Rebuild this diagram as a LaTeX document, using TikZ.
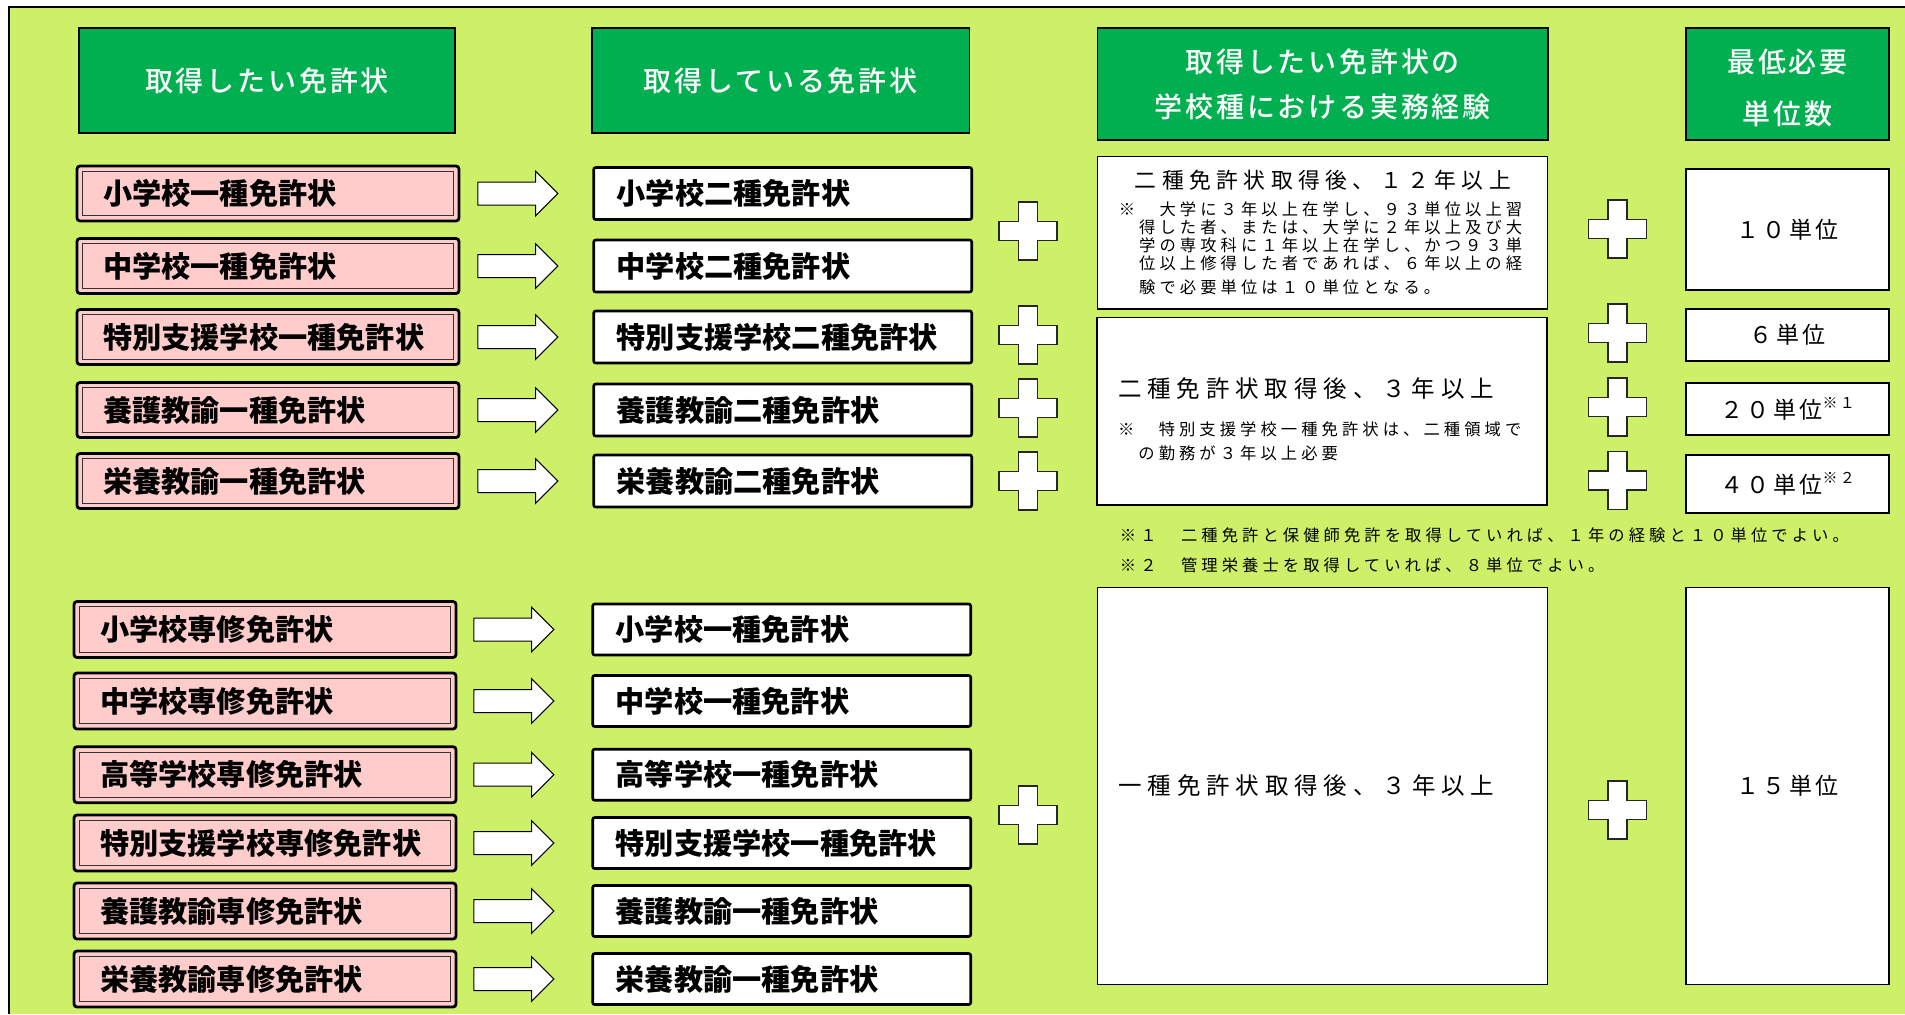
\documentclass[tikz,border=0pt]{standalone}
\usepackage{fontspec}
\setmainfont{Noto Sans CJK JP}
\newfontfamily\headfont{Noto Sans CJK JP Medium}[LetterSpace=10]
\newfontfamily\expfont{Noto Sans CJK JP}[LetterSpace=25]
\newfontfamily\unitfont{Noto Sans CJK JP}[LetterSpace=15]
\usetikzlibrary{shapes.arrows, positioning}
\definecolor{bggreen}{HTML}{CDF068}
\definecolor{headgreen}{HTML}{00B050}
\definecolor{pinkfill}{HTML}{FFCCCC}
\newcommand{\unitnote}[1]{\raisebox{5pt}{\fontsize{7.5pt}{7.5pt}\selectfont #1}}
\tikzset{
    header/.style={
        rectangle, draw=black, line width=0.6pt, fill=headgreen,
        text=white, align=center,
        font=\headfont\fontsize{14pt}{22.5pt}\selectfont
    },
    wantbox/.style={
        rectangle, draw=black, line width=1.4pt, rounded corners=1.5pt,
        fill=pinkfill, minimum width=191pt, minimum height=27.5pt,
        inner xsep=13pt, text width=165pt, align=left,
        font=\bfseries\fontsize{14.6pt}{17pt}\selectfont,
        path picture={\draw[black!80, line width=0.4pt, sharp corners]
            ([shift={(2.6pt,-2.6pt)}]path picture bounding box.north west) rectangle
            ([shift={(-2.6pt,2.6pt)}]path picture bounding box.south east);}
    },
    havebox/.style={
        rectangle, draw=black, line width=1.3pt, rounded corners=1pt,
        fill=white, minimum width=189pt, minimum height=26pt,
        inner xsep=11.5pt, text width=166pt, align=left,
        font=\bfseries\fontsize{14.6pt}{17pt}\selectfont
    },
    expbox/.style={
        rectangle, draw=black, line width=0.6pt, fill=white,
        minimum width=225pt, inner xsep=10.5pt, text width=204pt, align=left,
        font=\expfont
    },
    unitbox/.style={
        rectangle, draw=black, line width=0.6pt, fill=white,
        minimum width=101.5pt, align=center,
        font=\unitfont\fontsize{11.5pt}{13pt}\selectfont
    },
    blockarrow/.style={
        single arrow, draw=black, line width=0.5pt, fill=white,
        minimum height=40pt, inner xsep=0pt, inner ysep=5.5pt,
        single arrow head extend=5.4pt
    },
    footnote/.style={
        anchor=west, inner sep=0pt,
        font=\expfont\fontsize{8.15pt}{10pt}\selectfont
    },
    plussign/.pic={
        \draw[fill=white, draw=black!85, line width=0.6pt]
            (-4.75pt,14.5pt) -- (4.75pt,14.5pt) -- (4.75pt,4.75pt) -- (14.5pt,4.75pt)
            -- (14.5pt,-4.75pt) -- (4.75pt,-4.75pt) -- (4.75pt,-14.5pt) -- (-4.75pt,-14.5pt)
            -- (-4.75pt,-4.75pt) -- (-14.5pt,-4.75pt) -- (-14.5pt,4.75pt) -- (-4.75pt,4.75pt) -- cycle;
    }
}

\begin{document}
\begin{tikzpicture}[x=0.5pt, y=-0.5pt]
\useasboundingbox (0,0) rectangle (1905,1014);

% Background panel
\fill[bggreen] (9,7) rectangle (1905,1014);
\draw[black, line width=0.7pt] (9,1014) -- (9,7) -- (1905,7);

% Column headers
\node[header, minimum width=188pt, minimum height=52.5pt] (h_want) at (267,80.5) {取得したい免許状};
\node[header, minimum width=188.75pt, minimum height=52.5pt] (h_have) at (780.75,80.5) {取得している免許状};
\node[header, minimum width=225.25pt, minimum height=56pt] (h_exp) at (1322.75,84) {取得したい免許状の\\学校種における実務経験};
\node[header, minimum width=101.5pt, minimum height=56pt] (h_unit) at (1787.5,84) {\rule{0pt}{16pt}最低必要\\[3.5pt]単位数};

% Upper block: wanted licences (first class)
\node[wantbox] (want1) at (268,193.5) {小学校一種免許状};
\node[wantbox] (want2) at (268,266) {中学校一種免許状};
\node[wantbox] (want3) at (268,337) {特別支援学校一種免許状};
\node[wantbox] (want4) at (268,410) {養護教諭一種免許状};
\node[wantbox] (want5) at (268,481) {栄養教諭一種免許状};

\node[havebox, right=66pt of want1] (have1) {小学校二種免許状};
\node[havebox, right=66pt of want2] (have2) {中学校二種免許状};
\node[havebox, right=66pt of want3] (have3) {特別支援学校二種免許状};
\node[havebox, right=66pt of want4] (have4) {養護教諭二種免許状};
\node[havebox, right=66pt of want5] (have5) {栄養教諭二種免許状};

\node[blockarrow, right=8.5pt of want1] (arr1) {};
\node[blockarrow, right=8.5pt of want2] (arr2) {};
\node[blockarrow, right=8.5pt of want3] (arr3) {};
\node[blockarrow, right=8.5pt of want4] (arr4) {};
\node[blockarrow, right=8.5pt of want5] (arr5) {};

% Lower block: wanted licences (advanced)
\node[wantbox, minimum height=28pt] (want6) at (265,629.5) {小学校専修免許状};
\node[wantbox, minimum height=28pt] (want7) at (265,701) {中学校専修免許状};
\node[wantbox, minimum height=28pt] (want8) at (265,774.7) {高等学校専修免許状};
\node[wantbox, minimum height=28pt] (want9) at (265,843) {特別支援学校専修免許状};
\node[wantbox, minimum height=28pt] (want10) at (265,911) {養護教諭専修免許状};
\node[wantbox, minimum height=28pt] (want11) at (265,979) {栄養教諭専修免許状};

\node[havebox, minimum height=25.5pt, right=67pt of want6] (have6) {小学校一種免許状};
\node[havebox, minimum height=25.5pt, right=67pt of want7] (have7) {中学校一種免許状};
\node[havebox, minimum height=25.5pt, right=67pt of want8] (have8) {高等学校一種免許状};
\node[havebox, minimum height=25.5pt, right=67pt of want9] (have9) {特別支援学校一種免許状};
\node[havebox, minimum height=25.5pt, right=67pt of want10] (have10) {養護教諭一種免許状};
\node[havebox, minimum height=25.5pt, right=67pt of want11] (have11) {栄養教諭一種免許状};

\node[blockarrow, right=8pt of want6] (arr6) {};
\node[blockarrow, right=8pt of want7] (arr7) {};
\node[blockarrow, right=8pt of want8] (arr8) {};
\node[blockarrow, right=8pt of want9] (arr9) {};
\node[blockarrow, right=8pt of want10] (arr10) {};
\node[blockarrow, right=8pt of want11] (arr11) {};

% Experience boxes
\node[expbox, minimum height=76.15pt] (exp1) at (1322.8,232.85)
    {\makebox[204pt][c]{\fontsize{10.9pt}{13pt}\selectfont 二種免許状取得後、１２年以上}\\[4.5pt]
     \fontsize{8.15pt}{9pt}\selectfont
     ※　大学に３年以上在学し、９３単位以上習\\
     　得した者、または、大学に２年以上及び大\\
     　学の専攻科に１年以上在学し、かつ９３単\\
     　位以上修得した者であれば、６年以上の経\\
     　験で必要単位は１０単位となる。};
\node[expbox, minimum height=93.85pt] (exp2) at (1322,411.15)
    {{\fontsize{11.75pt}{14pt}\selectfont\rule{0pt}{18pt}二種免許状取得後、３年以上}\\[7.9pt]
     \fontsize{8.15pt}{10.85pt}\selectfont
     ※　特別支援学校一種免許状は、二種領域で\\
     　の勤務が３年以上必要};
\node[expbox, minimum height=198.5pt, font=\expfont\fontsize{11.75pt}{14pt}\selectfont] (exp3) at (1322.25,785.8) {一種免許状取得後、３年以上};

% Footnotes
\node[footnote] (note1) at (1119.5,535) {※１　二種免許と保健師免許を取得していれば、１年の経験と１０単位でよい。};
\node[footnote] (note2) at (1119.5,565) {※２　管理栄養士を取得していれば、８単位でよい。};

% Unit boxes
\node[unitbox, minimum height=60.5pt] (unit1) at (1787.5,229.5) {１０単位};
\node[unitbox, minimum height=26pt] (unit2) at (1787.5,335) {６単位};
\node[unitbox, minimum height=26pt] (unit3) at (1787.5,409) {２０単位\unitnote{※１}};
\node[unitbox, minimum height=29pt] (unit4) at (1787.5,484) {４０単位\unitnote{※２}};
\node[unitbox, minimum height=198.5pt] (unit5) at (1787.5,785.8) {１５単位};

% Plus signs
\pic at (1028,231) {plussign};
\pic at (1028,335) {plussign};
\pic at (1028,408) {plussign};
\pic at (1028,481) {plussign};
\pic at (1028,815) {plussign};
\pic at (1617.5,229) {plussign};
\pic at (1617.5,333) {plussign};
\pic at (1617.5,407) {plussign};
\pic at (1617.5,480.5) {plussign};
\pic at (1617.5,810) {plussign};

\end{tikzpicture}
\end{document}
